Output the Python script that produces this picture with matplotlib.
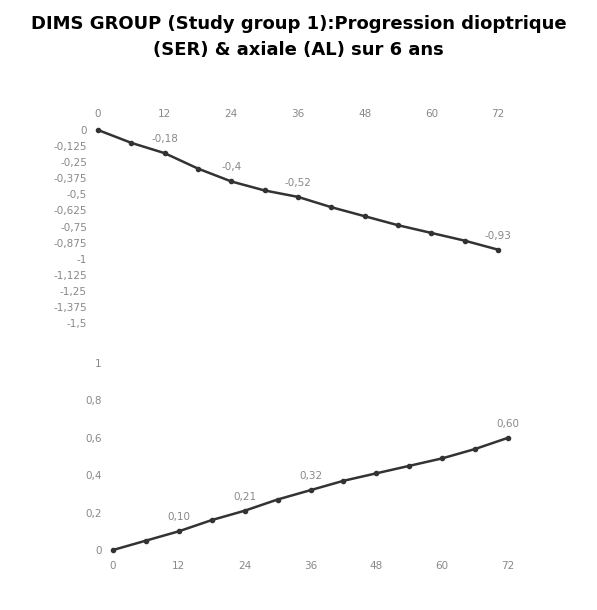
import matplotlib
matplotlib.use("Agg")
import matplotlib.pyplot as plt
import numpy as np

months = [0, 6, 12, 18, 24, 30, 36, 42, 48, 54, 60, 66, 72]
ser = [0, -0.10, -0.18, -0.30, -0.40, -0.47, -0.52, -0.60, -0.67, -0.74, -0.80, -0.86, -0.93]
al = [0, 0.05, 0.10, 0.16, 0.21, 0.27, 0.32, 0.37, 0.41, 0.45, 0.49, 0.54, 0.60]
ser_labels = {12: "-0,18", 24: "-0,4", 36: "-0,52", 72: "-0,93"}
al_labels = {12: "0,10", 24: "0,21", 36: "0,32", 72: "0,60"}
xticks = [0, 12, 24, 36, 48, 60, 72]
ser_ticks = np.arange(0, -1.5001, -0.125)
al_ticks = [0, 0.2, 0.4, 0.6, 0.8, 1]

W, H = 597, 610
fig = plt.figure(figsize=(W/100, H/100), dpi=100)
fig.text(0.5, 1 - 37/H, "DIMS GROUP (Study group 1):Progression dioptrique\n(SER) & axiale (AL) sur 6 ans",
         ha="center", va="center", fontsize=13, fontweight="bold", linespacing=1.6)

def fr(x0, x1, y0, y1):
    return [x0/W, 1 - y1/H, (x1-x0)/W, (y1-y0)/H]

gray = "#888888"
ax1 = fig.add_axes(fr(98, 498, 130, 323))
ax1.plot(months, ser, color="#333333", lw=1.8, marker="o", ms=3)
ax1.set_xlim(0, 72); ax1.set_ylim(-1.5, 0)
ax1.xaxis.tick_top()
ax1.set_xticks(xticks)
ax1.set_yticks(ser_ticks)
ax1.set_yticklabels([("%g" % t).replace(".", ",") for t in ser_ticks])
for m, s in ser_labels.items():
    ax1.annotate(s, (m, ser[months.index(m)]), xytext=(0, 8), textcoords="offset points",
                 ha="center", fontsize=7.5, color=gray)

ax2 = fig.add_axes(fr(113, 508, 363, 550))
ax2.plot(months, al, color="#333333", lw=1.8, marker="o", ms=3)
ax2.set_xlim(0, 72); ax2.set_ylim(0, 1)
ax2.set_xticks(xticks)
ax2.set_yticks(al_ticks)
ax2.set_yticklabels([("%g" % t).replace(".", ",") for t in al_ticks])
for m, s in al_labels.items():
    ax2.annotate(s, (m, al[months.index(m)]), xytext=(0, 8), textcoords="offset points",
                 ha="center", fontsize=7.5, color=gray)

for ax in (ax1, ax2):
    for sp in ax.spines.values():
        sp.set_visible(False)
    ax.tick_params(length=0, labelsize=7.5, labelcolor=gray, pad=8)
    for l in ax.lines:
        l.set_clip_on(False)

fig.savefig("out.png", dpi=100, facecolor="white")
